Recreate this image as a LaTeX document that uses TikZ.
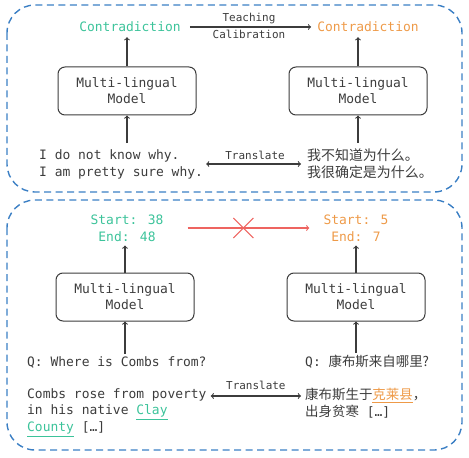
\documentclass[tikz,border=0pt]{standalone}
\usepackage{fontspec}
\usepackage{tikz}
\usepackage{xcolor}

\newfontfamily\mono{DejaVu Sans Mono}
\newfontfamily\cjk{Noto Sans CJK SC}

\definecolor{boxblue}{HTML}{3B7FC4}
\definecolor{txtgray}{HTML}{3C3C3C}
\definecolor{srcgreen}{HTML}{3CC39A}
\definecolor{tgtorange}{HTML}{EE9A48}
\definecolor{xred}{HTML}{EE6460}

\tikzset{
	frame/.style={draw=boxblue, dash pattern=on 7bp off 4.5bp, line width=1.4bp, rounded corners=28bp},
	model/.style={draw=txtgray, rounded corners=7bp, minimum width=138bp, minimum height=48bp, align=center, line width=1bp, text=txtgray, font=\mono\fontsize{13}{16}\selectfont},
	txt/.style={text=txtgray, align=left, inner sep=2bp, font=\mono\fontsize{13}{17}\selectfont},
	small/.style={text=txtgray, inner sep=1bp, font=\mono\fontsize{11}{13}\selectfont},
	flow/.style={->, draw=txtgray, line width=1.1bp},
	both/.style={<->, draw=txtgray, line width=1.1bp}
}

\begin{document}
\begin{tikzpicture}[x=1bp, y=-1bp]
		\useasboundingbox (0,0) rectangle (469,458);
		
		% Two dashed frames
		\draw[frame] (7,5) rectangle (462,192);
		\draw[frame] (7,200) rectangle (462,450);
		
		% Upper part: contradiction task
		\node[txt, text=srcgreen] (srcpred) at (130,27) {Contradiction};
		\node[txt, text=tgtorange] (tgtpred) at (368,27) {Contradiction};
		\draw[flow, shorten <=7bp, shorten >=4bp] (srcpred.east) -- (tgtpred.west)
			node[small, midway, above=2bp] {Teaching}
			node[small, midway, below=2bp] {Calibration};
		
		\node[model] (srcmodel) at (127,91) {Multi-lingual\\Model};
		\node[model] (tgtmodel) at (358,91) {Multi-lingual\\Model};
		\draw[flow] (srcmodel.north) -- ([yshift=-3bp]srcpred.south -| srcmodel.north);
		\draw[flow] (tgtmodel.north) -- ([yshift=-3bp]tgtpred.south -| tgtmodel.north);
		
		\node[txt, anchor=west] (srcsent) at (37,164) {I do not know why.\\I am pretty sure why.};
		\node[txt, anchor=west, font=\cjk\fontsize{14}{17}\selectfont] (tgtsent) at (305,164) {我不知道为什么。\\我很确定是为什么。};
		\draw[flow, shorten <=4bp] (srcsent.north -| srcmodel.south) -- (srcmodel.south);
		\draw[flow, shorten <=4bp] (tgtsent.north -| tgtmodel.south) -- (tgtmodel.south);
		\draw[both, shorten <=1bp, shorten >=4bp] (srcsent.east) -- (tgtsent.west)
			node[small, midway, above=3bp] {Translate};
		
		% Lower part: span extraction task
		\node[txt, align=center, text=srcgreen] (srcspan) at (127,228) {Start: 38\\End: 48};
		\node[txt, align=center, text=tgtorange] (tgtspan) at (356,228) {Start: 5\\End: 7};
		\draw[->, draw=xred, line width=1.1bp, shorten <=22bp, shorten >=12bp] (srcspan.east) -- (tgtspan.west)
			coordinate[midway] (nomap);
		\draw[xred, line width=1.1bp] (nomap) ++(-10,-10) -- ++(20,20)
			(nomap) ++(-10,10) -- ++(20,-20);
		
		\node[model] (srcmodel2) at (125,297) {Multi-lingual\\Model};
		\node[model] (tgtmodel2) at (356,297) {Multi-lingual\\Model};
		\draw[flow] (srcmodel2.north) -- ([yshift=-2bp]srcspan.south -| srcmodel2.north);
		\draw[flow] (tgtmodel2.north) -- ([yshift=-2bp]tgtspan.south -| tgtmodel2.north);
		
		\node[txt, anchor=west] (srcq) at (25,362) {Q: Where is Combs from?};
		\node[txt, anchor=west] (tgtq) at (303,362) {Q: {\cjk\fontsize{13.5}{17}\selectfont 康布斯来自哪里?}};
		\draw[flow] (srcq.north -| srcmodel2.south) -- (srcmodel2.south);
		\draw[flow] (tgtq.north -| tgtmodel2.south) -- (tgtmodel2.south);
		
		\node[txt, anchor=north west] (srcctx) at (25,386) {Combs rose from poverty\\in his native \textcolor{srcgreen}{\underline{Clay}}\\\textcolor{srcgreen}{\underline{County}} [\dots]};
		\node[txt, anchor=north west] (tgtctx) at (303,386) {{\cjk\fontsize{13.5}{17}\selectfont 康布斯生于\textcolor{tgtorange}{\underline{克莱县}}，}\\{\cjk\fontsize{13.5}{17}\selectfont 出身贫寒} [\dots]};
		\draw[both, shorten <=2bp, shorten >=2bp] ([yshift=-10bp]srcctx.north east) -- ([yshift=-10bp]srcctx.north east -| tgtctx.west)
			node[small, midway, above=5bp] {Translate};
	\end{tikzpicture}
\end{document}
